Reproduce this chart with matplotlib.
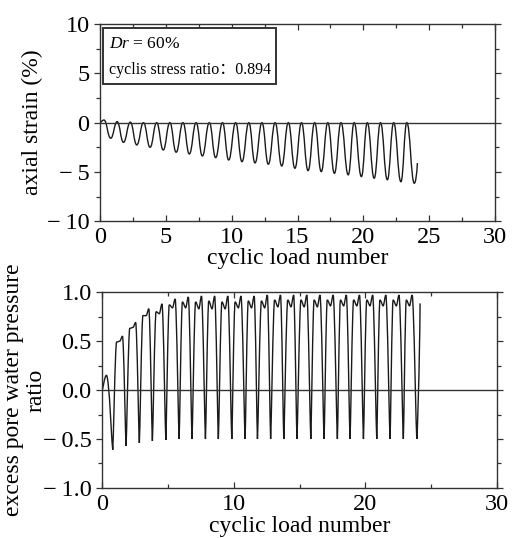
import numpy as np
import matplotlib
matplotlib.use("Agg")
import matplotlib.pyplot as plt
from matplotlib.path import Path
from matplotlib.patches import PathPatch, Rectangle
from matplotlib.ticker import FixedLocator, FixedFormatter, MultipleLocator

plt.rcParams['font.family'] = ['Liberation Serif', 'Noto Sans CJK SC', 'DejaVu Sans']
plt.rcParams['mathtext.fontset'] = 'custom'
plt.rcParams['mathtext.rm'] = 'Liberation Serif'
plt.rcParams['mathtext.it'] = 'Liberation Serif:italic'

# ---------------- data ----------------
# axial strain: extrema of the oscillation (cycle number, strain %)
strain_x = [0.0, 0.3, 0.81, 1.3, 1.78, 2.3, 2.79, 3.3, 3.8, 4.3, 4.8, 5.3, 5.78,
            6.3, 6.78, 7.3, 7.77, 8.3, 8.78, 9.3, 9.77, 10.3, 10.78, 11.3, 11.77,
            12.3, 12.78, 13.3, 13.8, 14.3, 14.8, 15.3, 15.8, 16.3, 16.8, 17.3, 17.8,
            18.3, 18.85, 19.3, 19.85, 20.3, 20.82, 21.3, 21.82, 22.3, 22.85, 23.3,
            23.87, 24.1]
strain_y = [0.0, 0.27, -1.58, 0.1, -2.0, 0.05, -2.26, 0.0, -2.5, 0.0, -2.77, 0.0, -3.0,
            0.0, -3.18, 0.0, -3.38, 0.0, -3.55, 0.0, -3.79, 0.0, -3.96, 0.0, -4.09,
            0.0, -4.22, 0.0, -4.4, 0.0, -4.63, 0.0, -4.87, 0.0, -4.97, 0.0, -5.14,
            0.0, -5.3, 0.0, -5.48, 0.0, -5.64, 0.0, -5.8, 0.0, -6.0, 0.0,
            -6.15, -4.1]

# excess pore water pressure ratio: start, first bump, first trough
pwp_start_x = [0.0, 0.33, 0.81]
pwp_start_y = [0.0, 0.15, -0.61]
# per cycle k = 1..23: first peak, dip, second peak, trough
pwp_first_x = [1.1, 2.1, 3.1, 4.1, 5.1, 6.1, 7.1, 8.1, 9.1, 10.1, 11.1, 12.1,
               13.1, 14.1, 15.1, 16.1, 17.1, 18.1, 19.1, 20.1, 21.1, 22.1, 23.1]
pwp_first_y = [0.49, 0.63, 0.76, 0.80, 0.87, 0.90, 0.90, 0.91, 0.90, 0.90, 0.91, 0.91,
               0.92, 0.92, 0.92, 0.92, 0.92, 0.92, 0.92, 0.92, 0.92, 0.92, 0.92]
pwp_dip_x = [1.35, 2.35, 3.35, 4.35, 5.35, 6.35, 7.35, 8.35, 9.35, 10.35, 11.35, 12.35,
             13.35, 14.35, 15.35, 16.35, 17.35, 18.35, 19.35, 20.35, 21.35, 22.35, 23.35]
pwp_dip_y = [0.50, 0.64, 0.76, 0.78, 0.84, 0.84, 0.83, 0.83, 0.83, 0.84, 0.84, 0.84,
             0.85, 0.85, 0.85, 0.85, 0.86, 0.86, 0.86, 0.86, 0.86, 0.86, 0.86]
pwp_second_x = [1.55, 2.55, 3.55, 4.55, 5.55, 6.55, 7.55, 8.55, 9.55, 10.55, 11.55, 12.55,
                13.55, 14.55, 15.55, 16.55, 17.55, 18.55, 19.55, 20.55, 21.55, 22.55, 23.55]
pwp_second_y = [0.55, 0.69, 0.83, 0.88, 0.93, 0.95, 0.96, 0.96, 0.96, 0.96, 0.96, 0.97,
                0.97, 0.97, 0.97, 0.97, 0.97, 0.97, 0.97, 0.97, 0.97, 0.97, 0.97]
pwp_trough_x = [1.82, 2.83, 3.82, 4.84, 5.85, 6.83, 7.85, 8.83, 9.85, 10.86, 11.8, 12.8,
                13.8, 14.8, 15.85, 16.86, 17.87, 18.83, 19.85, 20.86, 21.87, 22.88, 23.9]
pwp_trough_y = [-0.57, -0.54, -0.52, -0.51, -0.50, -0.50, -0.50, -0.50, -0.50, -0.50,
                -0.50, -0.50, -0.50, -0.50, -0.50, -0.50, -0.50, -0.50, -0.50, -0.50,
                -0.50, -0.50, -0.50]
pwp_end_x = [24.15]
pwp_end_y = [0.885]

strain_yticks = [-10, -5, 0, 5, 10]
strain_yticklabels = ['−\u200910', '−\u20095', '0', '5', '10']
strain_xticks = [0, 5, 10, 15, 20, 25, 30]
pwp_yticks = [-1.0, -0.5, 0.0, 0.5, 1.0]
pwp_yticklabels = ['−\u20091.0', '−\u20090.5', '0.0', '0.5', '1.0']
pwp_xticks = [0, 10, 20, 30]

# ---------------- helpers ----------------
def smooth_path(xs, ys, handles, end_slope=False):
    verts = [(xs[0], ys[0])]
    codes = [Path.MOVETO]
    n = len(xs)
    for i in range(n - 1):
        x0, y0, x1, y1 = xs[i], ys[i], xs[i + 1], ys[i + 1]
        dx = x1 - x0
        c1 = (x0 + handles[i] * dx, y0)
        if end_slope and i == n - 2:
            c2 = (x1 - 0.15 * dx, y1 - 0.5 * (y1 - y0))
        else:
            c2 = (x1 - handles[i + 1] * dx, y1)
        verts += [c1, c2, (x1, y1)]
        codes += [Path.CURVE4, Path.CURVE4, Path.CURVE4]
    return Path(verts, codes)

line_col = '#1a1a1a'
spine_col = '#333333'
TICK_FS = 17.5
LABEL_FS = 17

fig = plt.figure(figsize=(5.13, 5.38), dpi=100)
ax1 = fig.add_axes([0.195, 0.589, 0.770, 0.366])
ax2 = fig.add_axes([0.199, 0.093, 0.770, 0.364])

def style_axes(ax):
    for s in ax.spines.values():
        s.set_color(spine_col)
        s.set_linewidth(1.0)
    ax.tick_params(which='both', top=True, right=True, direction='in',
                   color=spine_col, width=0.9, labelsize=TICK_FS)
    ax.tick_params(which='major', length=4)
    ax.tick_params(which='minor', length=3)
    ax.tick_params(axis='x', which='both', pad=4)
    ax.tick_params(axis='y', which='both', left=True, direction='out', pad=3.5)

# ---- top: axial strain ----
h1 = [0.45] * len(strain_x)
h1[0] = 0.2
p1 = smooth_path(strain_x, strain_y, h1, end_slope=True)
ax1.add_patch(PathPatch(p1, facecolor='none', edgecolor=line_col, lw=1.0))
ax1.axhline(0, color=spine_col, lw=1.0)
ax1.set_xlim(0, 30)
ax1.set_ylim(-10, 10)
ax1.xaxis.set_major_locator(FixedLocator(strain_xticks))
ax1.xaxis.set_minor_locator(MultipleLocator(2.5))
ax1.yaxis.set_major_locator(FixedLocator(strain_yticks))
ax1.yaxis.set_major_formatter(FixedFormatter(strain_yticklabels))
ax1.yaxis.set_minor_locator(MultipleLocator(2.5))
style_axes(ax1)
ax1.set_xlabel('cyclic load number', fontsize=LABEL_FS)
ax1.set_ylabel('axial strain (%)', fontsize=LABEL_FS)
ax1.xaxis.set_label_coords(0.5, -0.135)
ax1.yaxis.set_label_coords(-0.145, 0.5)

ax1.add_patch(Rectangle((0.0076, 0.695), 0.438, 0.285, transform=ax1.transAxes,
                        facecolor='white', edgecolor=spine_col, lw=1.4, zorder=5))
ax1.text(0.022, 0.9, r'$Dr$ = 60%', transform=ax1.transAxes, fontsize=12.5,
         va='center', ha='left', zorder=6)
ax1.text(0.022, 0.767, 'cyclis stress ratio：0.894', transform=ax1.transAxes,
         fontsize=11.5, va='center', ha='left', zorder=6)

# ---- bottom: excess pore water pressure ratio ----
xs = list(pwp_start_x)
ys = list(pwp_start_y)
hs = [0.2, 0.45, 0.12]
for k in range(len(pwp_first_x)):
    xs += [pwp_first_x[k], pwp_dip_x[k], pwp_second_x[k], pwp_trough_x[k]]
    ys += [pwp_first_y[k], pwp_dip_y[k], pwp_second_y[k], pwp_trough_y[k]]
    hs += [0.35, 0.3, 0.35, 0.12]
xs += pwp_end_x
ys += pwp_end_y
hs += [0.2]
p2 = smooth_path(xs, ys, hs, end_slope=True)
ax2.add_patch(PathPatch(p2, facecolor='none', edgecolor=line_col, lw=1.0))
ax2.axhline(0, color=spine_col, lw=1.0)
ax2.set_xlim(0, 30)
ax2.set_ylim(-1.0, 1.0)
ax2.xaxis.set_major_locator(FixedLocator(pwp_xticks))
ax2.xaxis.set_minor_locator(MultipleLocator(5))
ax2.yaxis.set_major_locator(FixedLocator(pwp_yticks))
ax2.yaxis.set_major_formatter(FixedFormatter(pwp_yticklabels))
ax2.yaxis.set_minor_locator(MultipleLocator(0.25))
style_axes(ax2)
ax2.set_xlabel('cyclic load number', fontsize=LABEL_FS)
ax2.xaxis.set_label_coords(0.5, -0.145)
ax2.set_ylabel('excess pore water pressure\nratio', fontsize=LABEL_FS,
               linespacing=1.1)
ax2.yaxis.set_label_coords(-0.14, 0.5)

fig.savefig('out.png', dpi=100)
